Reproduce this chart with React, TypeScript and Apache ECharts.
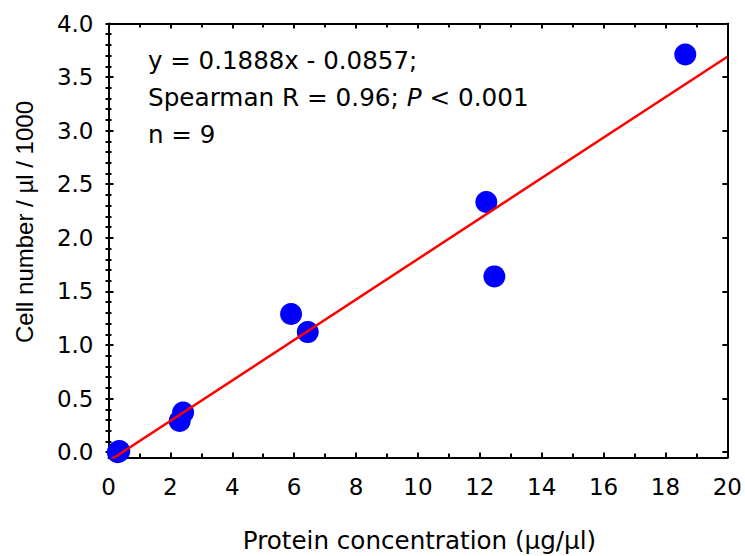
import React, { useEffect, useRef } from "react";
import * as echarts from "echarts";

const proteinX = [0.3, 0.35, 2.3, 2.41, 5.9, 6.44, 12.21, 12.47, 18.64];
const cellY = [0.0, 0.01, 0.29, 0.37, 1.29, 1.12, 2.335, 1.64, 3.71];
const fitX = [0, 20];
const fitY = [-0.0857, 3.6903];
const yMajorTicks = [0, 0.5, 1.0, 1.5, 2.0, 2.5, 3.0, 3.5, 4.0];
const annotationLines = ["y = 0.1888x - 0.0857;", "Spearman R = 0.96; ", "n = 9"];
const xTitle = "Protein concentration (µg/µl)";
const yTitle = "Cell number / µl / 1000";

const FONT = "DejaVu Sans";

export default function App() {
  const ref = useRef<HTMLDivElement>(null);
  useEffect(() => {
    if (!ref.current) return;
    const chart = echarts.init(ref.current, undefined, { renderer: "svg" });
    const minorY = Array.from({ length: 41 }, (_, i) => +(i * 0.1).toFixed(1));
    const lineStyle = { color: "#000", width: 2 };
    const tickBase = { show: true, inside: true, length: 5, lineStyle: { color: "#000", width: 2 } };
    const xBase = {
      type: "value",
      min: 0,
      max: 20,
      interval: 2,
      splitLine: { show: false },
      axisLine: { show: true, onZero: false, lineStyle },
      axisTick: tickBase,
      minorTick: { show: true, splitNumber: 2, length: 4, lineStyle: { color: "#000", width: 2 } },
    };
    const yBase = {
      type: "value",
      min: -0.05,
      max: 4,
      splitLine: { show: false },
      axisLine: { show: true, onZero: false, lineStyle },
    };
    chart.setOption({
      animation: false,
      backgroundColor: "#fff",
      grid: { left: 108.5, right: 16, top: 23.5, bottom: 98.5, containLabel: false },
      xAxis: [
        {
          ...xBase,
          position: "bottom",
          axisLabel: { show: true, color: "#000", fontFamily: FONT, fontSize: 23, margin: 18 },
        },
        {
          ...xBase,
          position: "top",
          axisLabel: { show: false },
        },
      ],
      yAxis: [
        {
          ...yBase,
          position: "left",
          axisTick: { ...tickBase, customValues: yMajorTicks },
          axisLabel: {
            show: true,
            customValues: yMajorTicks,
            color: "#000",
            fontFamily: FONT,
            fontSize: 23,
            margin: 15,
            formatter: (v: number) => v.toFixed(1),
          },
        },
        {
          ...yBase,
          position: "left",
          axisLine: { show: false },
          axisLabel: { show: false },
          axisTick: { show: true, inside: true, length: 3, customValues: minorY, lineStyle: { color: "#000", width: 2 } },
        },
        {
          ...yBase,
          position: "right",
          axisLabel: { show: false },
          axisTick: { ...tickBase, customValues: yMajorTicks },
        },
        {
          ...yBase,
          position: "right",
          axisLine: { show: false },
          axisLabel: { show: false },
          axisTick: { show: true, inside: true, length: 3, customValues: minorY, lineStyle: { color: "#000", width: 2 } },
        },
      ],
      graphic: [
        {
          type: "text",
          left: 148,
          top: 48,
          style: { text: annotationLines[0], fill: "#000", font: `24.5px "${FONT}"` },
        },
        {
          type: "text",
          left: 148,
          top: 85,
          style: {
            text: `{a|${annotationLines[1]}}{b|P}{a| < 0.001}`,
            fill: "#000",
            rich: {
              a: { fontFamily: FONT, fontSize: 24.7, fill: "#000" },
              b: { fontFamily: FONT, fontSize: 24.7, fontStyle: "italic", fill: "#000" },
            },
          },
        },
        {
          type: "text",
          left: 148,
          top: 122,
          style: { text: annotationLines[2], fill: "#000", font: `24.5px "${FONT}"` },
        },
        {
          type: "text",
          x: 419.5,
          y: 540,
          style: { text: xTitle, fill: "#000", font: `24.6px "${FONT}"`, align: "center", verticalAlign: "middle" },
        },
        {
          type: "text",
          x: 24,
          y: 222,
          rotation: Math.PI / 2,
          style: { text: yTitle, fill: "#000", font: `24px "Liberation Sans"`, align: "center", verticalAlign: "middle" },
        },
      ],
      series: [
        {
          type: "scatter",
          xAxisIndex: 0,
          yAxisIndex: 0,
          symbol: "circle",
          symbolSize: 22,
          itemStyle: { color: "#0000FF", opacity: 1 },
          data: proteinX.map((x, i) => [x, cellY[i]]),
          z: 2,
        },
        {
          type: "line",
          xAxisIndex: 0,
          yAxisIndex: 0,
          symbol: "none",
          clip: true,
          lineStyle: { color: "#FF0000", width: 2.5 },
          data: fitX.map((x, i) => [x, fitY[i]]),
          z: 3,
        },
      ],
    });
    return () => chart.dispose();
  }, []);
  return <div ref={ref} style={{ position: "fixed", left: 0, top: 0, width: 745, height: 556 }} />;
}
